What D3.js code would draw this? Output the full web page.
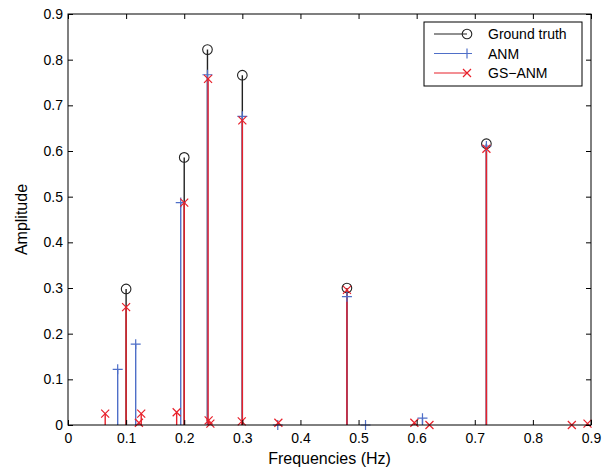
<!DOCTYPE html>
<html>
<head>
<meta charset="utf-8">
<style>
  body { margin: 0; background: #fff; }
  text { font-family: "Liberation Sans", Arial, sans-serif; }
</style>
</head>
<body>
<script src="https://cdn.jsdelivr.net/npm/d3@7"></script>
<script>
// data
var gtFreq  = [0.1, 0.2, 0.24, 0.3, 0.48, 0.72];
var gtAmp   = [0.298, 0.586, 0.822, 0.766, 0.300, 0.616];
var anmFreq = [0.0855, 0.1165, 0.194, 0.24, 0.3, 0.361, 0.48, 0.512, 0.61, 0.72];
var anmAmp  = [0.122, 0.177, 0.487, 0.767, 0.676, 0.0, 0.281, 0.0, 0.015, 0.611];
var gsFreq  = [0.064, 0.1, 0.122, 0.126, 0.187, 0.2, 0.241, 0.242, 0.245, 0.299, 0.3, 0.362, 0.48, 0.596, 0.622, 0.72, 0.867, 0.894];
var gsAmp   = [0.025, 0.258, 0.005, 0.025, 0.028, 0.487, 0.758, 0.010, 0.003, 0.008, 0.667, 0.005, 0.296, 0.005, 0.0, 0.605, 0.0, 0.003];
var xTicks  = [0, 0.1, 0.2, 0.3, 0.4, 0.5, 0.6, 0.7, 0.8, 0.9];
var yTicks  = [0, 0.1, 0.2, 0.3, 0.4, 0.5, 0.6, 0.7, 0.8, 0.9];
var names   = ["Ground truth", "ANM", "GS\u2212ANM"];

var W = 607, H = 472;
var pL = 68, pR = 591, pT = 14, pB = 425;

var svg = d3.select("body").append("svg")
    .attr("width", W).attr("height", H);

var x = d3.scaleLinear().domain([0, 0.9]).range([pL, pR]);
var y = d3.scaleLinear().domain([0, 0.9]).range([pB, pT]);

function zip(a, b) { return a.map(function(d, i) { return {f: d, a: b[i]}; }); }

var black = "#222", blue = "#4f6fc8", red = "#e8202a";

// stems
function stems(data, color) {
    svg.append("g").selectAll("line").data(data).enter().append("line")
        .attr("x1", function(d) { return x(d.f); })
        .attr("x2", function(d) { return x(d.f); })
        .attr("y1", y(0))
        .attr("y2", function(d) { return y(d.a); })
        .attr("stroke", color).attr("stroke-width", 1.4);
}
stems(zip(gtFreq, gtAmp), black);
stems(zip(anmFreq, anmAmp), blue);
stems(zip(gsFreq, gsAmp), red);

// markers
function circleMark(g, cx, cy) {
    g.append("circle").attr("cx", cx).attr("cy", cy).attr("r", 4.8)
        .attr("fill", "none").attr("stroke", black).attr("stroke-width", 1.1);
}
function plusMark(g, cx, cy) {
    g.append("path").attr("d", "M" + (cx - 5) + "," + cy + "H" + (cx + 5) + "M" + cx + "," + (cy - 5) + "V" + (cy + 5))
        .attr("stroke", blue).attr("stroke-width", 1.2).attr("fill", "none");
}
function crossMark(g, cx, cy) {
    g.append("path").attr("d", "M" + (cx - 4) + "," + (cy - 4) + "L" + (cx + 4) + "," + (cy + 4) + "M" + (cx - 4) + "," + (cy + 4) + "L" + (cx + 4) + "," + (cy - 4))
        .attr("stroke", red).attr("stroke-width", 1.2).attr("fill", "none");
}
var mg = svg.append("g");
zip(gtFreq, gtAmp).forEach(function(d) { circleMark(mg, x(d.f), y(d.a)); });
zip(anmFreq, anmAmp).forEach(function(d) { plusMark(mg, x(d.f), y(d.a)); });
zip(gsFreq, gsAmp).forEach(function(d) { crossMark(mg, x(d.f), y(d.a)); });

// axes (MATLAB-style box with inward ticks)
var tl = 5;
svg.append("g").attr("transform", "translate(0," + pB + ")")
    .call(d3.axisBottom(x).tickValues(xTicks).tickSize(-tl).tickPadding(8).tickFormat(d3.format("")));
svg.append("g").attr("transform", "translate(0," + pT + ")")
    .call(d3.axisTop(x).tickValues(xTicks).tickSize(-tl).tickFormat(""));
svg.append("g").attr("transform", "translate(" + pL + ",0)")
    .call(d3.axisLeft(y).tickValues(yTicks).tickSize(-tl).tickPadding(5).tickFormat(d3.format("")));
svg.append("g").attr("transform", "translate(" + pR + ",0)")
    .call(d3.axisRight(y).tickValues(yTicks).tickSize(-tl).tickFormat(""));
svg.selectAll(".domain").remove();
svg.selectAll(".tick line").attr("stroke", "#000");
svg.selectAll(".tick text").attr("font-size", 14).attr("fill", "#000")
    .attr("font-family", "Liberation Sans, Arial, sans-serif");
svg.append("rect").attr("x", pL).attr("y", pT)
    .attr("width", pR - pL).attr("height", pB - pT)
    .attr("fill", "none").attr("stroke", "#000").attr("stroke-width", 1);

// axis labels
svg.append("text").attr("x", (pL + pR) / 2).attr("y", 464)
    .attr("text-anchor", "middle").attr("font-size", 16).text("Frequencies (Hz)");
svg.append("text").attr("transform", "translate(27," + ((pT + pB) / 2) + ") rotate(-90)")
    .attr("text-anchor", "middle").attr("font-size", 16).text("Amplitude");

// legend
var lg = svg.append("g");
lg.append("rect").attr("x", 424).attr("y", 22).attr("width", 158).attr("height", 64)
    .attr("fill", "#fff").attr("stroke", "#000").attr("stroke-width", 1);
var colors = [black, blue, red];
var marks = [circleMark, plusMark, crossMark];
names.forEach(function(n, i) {
    var ry = 34 + i * 19.5;
    lg.append("line").attr("x1", 434).attr("x2", 467).attr("y1", ry).attr("y2", ry)
        .attr("stroke", colors[i]).attr("stroke-width", 1.2);
    marks[i](lg, 467, ry);
    lg.append("text").attr("x", 488).attr("y", ry + 5).attr("font-size", 14).text(n);
});
</script>
</body>
</html>
